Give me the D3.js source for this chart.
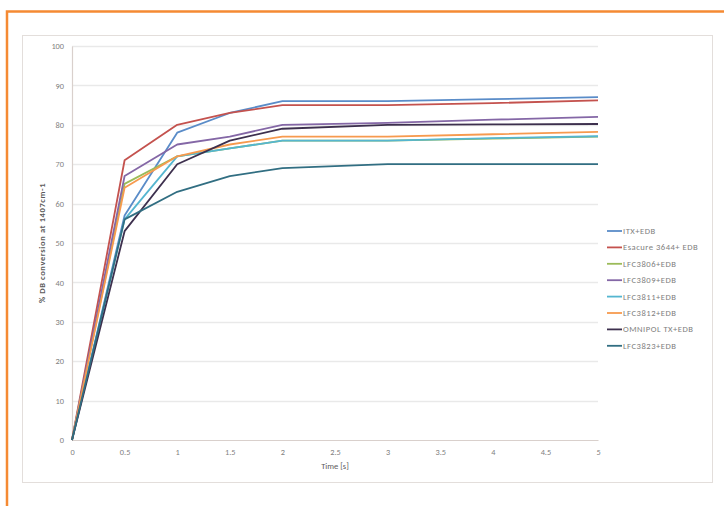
<!DOCTYPE html>
<html><head><meta charset="utf-8">
<script src="https://cdn.jsdelivr.net/npm/d3@7"></script>
<style>body{margin:0;background:#fff;} svg{display:block;}</style>
</head><body>
<svg id="c" width="724" height="506"></svg>
<script>
const times = [0, 0.5, 1, 1.5, 2, 3, 4, 5];
const seriesNames = ["ITX+EDB","Esacure 3644+ EDB","LFC3806+EDB","LFC3809+EDB","LFC3811+EDB","LFC3812+EDB","OMNIPOL TX+EDB","LFC3823+EDB"];
const itx      = [0, 57, 78, 83, 86, 86, 86.5, 87];
const esacure  = [0, 71, 80, 83, 85, 85, 85.5, 86.2];
const lfc3806  = [0, 65, 72, 74, 76, 76, 76.5, 77];
const lfc3809  = [0, 67, 75, 77, 80, 80.5, 81.3, 82];
const lfc3811  = [0, 56, 72, 74, 76, 76, 76.6, 77.1];
const lfc3812  = [0, 64, 72, 75, 77, 77, 77.6, 78.2];
const omnipol  = [0, 53, 70, 76, 79, 80, 80.1, 80.2];
const lfc3823  = [0, 56, 63, 67, 69, 70, 70, 70];
const colors = ["#5a8cc8","#c4524e","#9bbb59","#8467a6","#55b6d0","#f79a4e","#3d304e","#316e82"];
const xTicks = [0,0.5,1,1.5,2,2.5,3,3.5,4,4.5,5];
const yTicks = [0,10,20,30,40,50,60,70,80,90,100];

const values = [itx, esacure, lfc3806, lfc3809, lfc3811, lfc3812, omnipol, lfc3823];
const svg = d3.select("#c");
const FONT = "Carlito,'Liberation Sans',Arial,sans-serif";

// orange frame
svg.append("path").attr("d","M7,506 V11.5 H724").attr("fill","none").attr("stroke","#f58a33").attr("stroke-width",2.5);
// chart frame
svg.append("rect").attr("x",22.5).attr("y",35.5).attr("width",690).attr("height",447)
  .attr("fill","#fff").attr("stroke","#e3dedb").attr("stroke-width",1);

const x = d3.scaleLinear().domain([0,5]).range([72,598]);
const y = d3.scaleLinear().domain([0,100]).range([440,46]);

// gridlines
svg.append("g").selectAll("line").data(yTicks.slice(1)).join("line")
  .attr("x1",x(0)).attr("x2",x(5)).attr("y1",d=>Math.round(y(d))+0.5).attr("y2",d=>Math.round(y(d))+0.5)
  .attr("stroke","#e9e9e9").attr("stroke-width",1.5);

// axes
const yAxis = d3.axisLeft(y).tickValues(yTicks).tickSize(0).tickPadding(8);
const gy = svg.append("g").attr("transform",`translate(${x(0)},0)`).call(yAxis);
gy.select(".domain").attr("stroke","#d9d0cc").attr("stroke-width",1.2);
gy.selectAll("text").attr("fill","#808080").style("font-family",FONT).style("font-size","8.3px");

const xAxis = d3.axisBottom(x).tickValues(xTicks).tickSize(0).tickPadding(9).tickFormat(d=>String(d));
const gx = svg.append("g").attr("transform",`translate(0,${y(0)})`).call(xAxis);
gx.select(".domain").attr("stroke","#d9d0cc").attr("stroke-width",1.2);
gx.selectAll("text").attr("fill","#808080").style("font-family",FONT).style("font-size","8.3px");

// axis titles
svg.append("text").attr("x",(x(0)+x(5))/2).attr("y",469).attr("text-anchor","middle")
  .attr("fill","#5a5a5a").style("font-family",FONT).style("font-size","8.5px").text("Time [s]");
svg.append("text").attr("transform",`translate(45,${(y(0)+y(100))/2}) rotate(-90)`).attr("text-anchor","middle")
  .attr("fill","#5a5a5a").style("font-family",FONT).style("font-size","8.5px").style("font-weight","bold")
  .style("letter-spacing","0.6px").text("% DB conversion at 1407cm-1");

// lines
const line = d3.line().x((d,i)=>x(times[i])).y(d=>y(d));
svg.append("g").selectAll("path").data(values).join("path")
  .attr("d",d=>line(d)).attr("fill","none").attr("stroke",(d,i)=>colors[i])
  .attr("stroke-width",1.8).attr("stroke-linejoin","round");

// legend
const lg = svg.append("g").selectAll("g").data(seriesNames).join("g")
  .attr("transform",(d,i)=>`translate(607,${231+i*16.4})`);
lg.append("line").attr("x1",0).attr("x2",15).attr("stroke",(d,i)=>colors[i]).attr("stroke-width",1.8);
lg.append("text").attr("x",16).attr("y",3).attr("fill","#808080")
  .style("font-family",FONT).style("font-size","8.6px").style("letter-spacing","0.5px").text(d=>d);
</script>
</body></html>
